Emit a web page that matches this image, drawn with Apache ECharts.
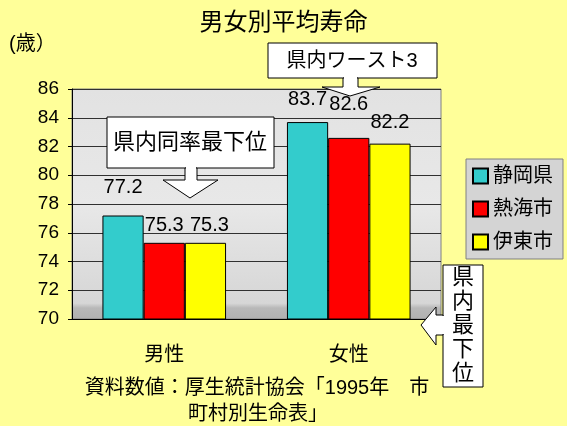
<!DOCTYPE html>
<html>
<head>
<meta charset="utf-8">
<script src="https://cdn.jsdelivr.net/npm/echarts@6/dist/echarts.min.js"></script>
<style>
  html, body { margin: 0; padding: 0; background: #FFFF99; }
  #main { width: 567px; height: 426px; }
</style>
</head>
<body>
<div id="main"></div>
<script>
// データ
var categories = ['男性', '女性'];
var seriesNames = ['静岡県', '熱海市', '伊東市'];
var shizuoka = [77.2, 83.7];
var atami = [75.3, 82.6];
var ito = [75.3, 82.2];
var yMin = 70, yMax = 86, yStep = 2;

var FONT = "Arial, 'Liberation Sans', 'Noto Sans CJK JP', sans-serif";
var colors = ['#33CCCC', '#FF0000', '#FFFF00'];
// ラベルの位置(元のグラフで手動調整されていた分)
var labelDist = [[18, 13], [7, 23], [7, 11]];

var myChart = echarts.init(document.getElementById('main'));

function makeSeries(name, values, idx) {
    return {
        name: name,
        type: 'bar',
        barGap: '0%',
        barCategoryGap: '33%',
        itemStyle: { color: colors[idx], borderColor: '#000', borderWidth: 1 },
        label: { show: true, position: 'top', color: '#000', fontSize: 20, fontFamily: FONT },
        data: values.map(function (v, i) {
            return { value: v, label: { distance: labelDist[idx][i], offset: [idx === 2 && i === 0 ? 4 : 0, 0] } };
        })
    };
}

var option = {
    backgroundColor: '#FFFF99',
    animation: false,
    title: {
        text: '男女別平均寿命',
        left: 'center',
        top: 6,
        textStyle: { fontSize: 24, fontWeight: 'normal', color: '#000', fontFamily: FONT }
    },
    legend: {
        orient: 'vertical',
        left: 466,
        top: 159,
        icon: 'rect',
        itemWidth: 15,
        itemHeight: 15,
        itemGap: 13,
        padding: [7, 10, 7, 6],
        backgroundColor: '#D4D4D4',
        borderColor: '#808080',
        borderWidth: 1,
        textStyle: { fontSize: 20, color: '#000', fontFamily: FONT },
        data: seriesNames
    },
    grid: {
        left: 72,
        right: 126,
        top: 89,
        bottom: 107,
        show: true,
        borderColor: '#808080',
        backgroundColor: new echarts.graphic.LinearGradient(0, 0, 0, 1, [
            { offset: 0, color: '#E2E2E2' },
            { offset: 0.5, color: '#E8E8E8' },
            { offset: 0.93, color: '#D6D6D6' },
            { offset: 0.95, color: '#B8B8B8' },
            { offset: 1, color: '#B0B0B0' }
        ])
    },
    xAxis: {
        type: 'category',
        data: categories,
        axisLine: { lineStyle: { color: '#000' } },
        axisTick: { inside: true, length: 5, lineStyle: { color: '#000' } },
        axisLabel: { margin: 26, fontSize: 20, color: '#000', fontFamily: FONT }
    },
    yAxis: {
        type: 'value',
        min: yMin,
        max: yMax,
        interval: yStep,
        axisLine: { show: true, lineStyle: { color: '#000' } },
        axisTick: { show: true, length: 4, lineStyle: { color: '#000' } },
        axisLabel: { margin: 13, fontSize: 19, color: '#000', fontFamily: FONT },
        splitLine: { lineStyle: { color: '#303030', width: 1 } }
    },
    series: [
        makeSeries(seriesNames[0], shizuoka, 0),
        makeSeries(seriesNames[1], atami, 1),
        makeSeries(seriesNames[2], ito, 2)
    ],
    graphic: [
        { type: 'text', left: 9, top: 34, style: { text: '(歳）', fill: '#000', font: '20px ' + FONT } },
        // 県内ワースト3
        { type: 'rect', z: 100, shape: { x: 268, y: 43, width: 169, height: 35 }, style: { fill: '#fff', stroke: '#000', lineWidth: 1 } },
        { type: 'polygon', z: 100, shape: { points: [[343, 78], [358, 78], [358, 87], [380, 87], [350, 96], [322, 87], [343, 87]] }, style: { fill: '#fff', stroke: '#000', lineWidth: 1 } },
        { type: 'rect', z: 101, shape: { x: 344, y: 76, width: 13, height: 4 }, style: { fill: '#fff' } },
        { type: 'text', z: 102, x: 352, y: 61, style: { text: '県内ワースト3', font: '20px ' + FONT, fill: '#000', align: 'center', verticalAlign: 'middle' } },
        // 県内同率最下位
        { type: 'rect', z: 100, shape: { x: 107, y: 117, width: 167, height: 51 }, style: { fill: '#fff', stroke: '#000', lineWidth: 1 } },
        { type: 'polygon', z: 100, shape: { points: [[185, 168], [197, 168], [197, 180], [218, 180], [190, 198], [163, 180], [185, 180]] }, style: { fill: '#fff', stroke: '#000', lineWidth: 1 } },
        { type: 'rect', z: 101, shape: { x: 186, y: 166, width: 10, height: 4 }, style: { fill: '#fff' } },
        { type: 'text', z: 102, x: 190, y: 143, style: { text: '県内同率最下位', font: '22px ' + FONT, fill: '#000', align: 'center', verticalAlign: 'middle' } },
        // 県内最下位
        { type: 'rect', z: 100, shape: { x: 443, y: 265, width: 40, height: 122 }, style: { fill: '#fff', stroke: '#000', lineWidth: 1 } },
        { type: 'polygon', z: 100, shape: { points: [[443, 315], [436, 315], [436, 307], [421, 325], [436, 345], [436, 335], [443, 335]] }, style: { fill: '#fff', stroke: '#000', lineWidth: 1 } },
        { type: 'rect', z: 101, shape: { x: 441, y: 316, width: 4, height: 18 }, style: { fill: '#fff' } },
        { type: 'text', z: 102, x: 463, y: 326, style: { text: '県\n内\n最\n下\n位', font: '22px ' + FONT, lineHeight: 24, fill: '#000', align: 'center', verticalAlign: 'middle' } },
        // 出典
        { type: 'text', x: 257, y: 388, style: { text: '資料数値：厚生統計協会「1995年　市', font: '20px ' + FONT, fill: '#000', align: 'center', verticalAlign: 'middle' } },
        { type: 'text', x: 258, y: 414, style: { text: '町村別生命表」', font: '20px ' + FONT, fill: '#000', align: 'center', verticalAlign: 'middle' } }
    ]
};

myChart.setOption(option);
</script>
</body>
</html>
